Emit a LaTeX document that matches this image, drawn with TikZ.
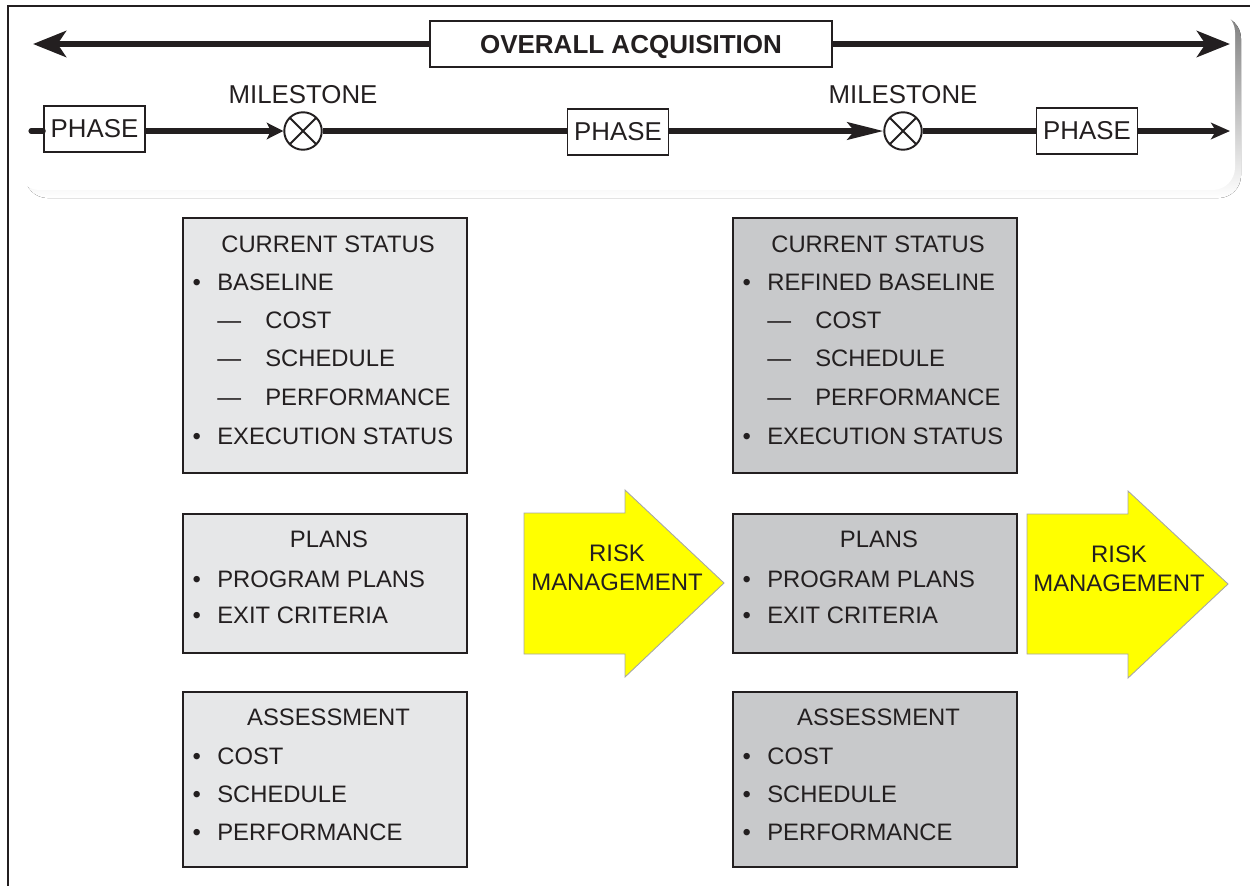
\documentclass[tikz,border=0pt]{standalone}
\usepackage{fontspec}
\setmainfont{Liberation Sans}
\usepackage{tikz}
\usetikzlibrary{arrows.meta,shapes}

\definecolor{ink}{HTML}{231F20}
\definecolor{shade}{HTML}{DCDDDF}
\definecolor{lightbox}{HTML}{E6E7E8}
\definecolor{darkbox}{HTML}{C8C9CB}
\definecolor{riskyellow}{HTML}{FFFF00}

\newcommand{\bul}{\llap{\textbullet\hspace{0.33cm}}}
\newcommand{\dsh}{\makebox[0.96cm][l]{—}}

\begin{document}
\begin{tikzpicture}[x=0.02cm, y=-0.02cm,
  every node/.style={text=ink},
  box/.style={draw=ink, line width=1.1pt},
  acqbox/.style={draw=ink, line width=1.1pt, fill=white, minimum width=8.04cm, minimum height=0.92cm, inner sep=0pt, text depth=0pt, font=\fontsize{14.8}{17}\selectfont\bfseries},
  phasebox/.style={draw=ink, line width=0.9pt, fill=white, minimum width=2.02cm, minimum height=0.92cm, inner sep=0pt, font=\fontsize{14.7}{17}\selectfont},
  milestone/.style={circle, draw=ink, line width=1.1pt, fill=white, minimum size=0.75cm, inner sep=0pt,
    path picture={\draw[ink, line width=1.1pt] (path picture bounding box.north west) -- (path picture bounding box.south east)
      (path picture bounding box.north east) -- (path picture bounding box.south west);}},
  mslabel/.style={inner sep=0pt, font=\fontsize{14.7}{17}\selectfont},
  bigarrow/.style={ink, line width=3.6pt, -{Stealth[length=0.66cm, width=0.52cm, inset=0.17cm]}},
  pline/.style={ink, line width=2.9pt},
  head/.style={inner sep=0pt, font=\fontsize{13.55}{16}\selectfont},
  item/.style={anchor=west, inner sep=0pt, font=\fontsize{13.55}{16}\selectfont},
  riskarrow/.style={fill=riskyellow, draw=gray!70, line width=0.5pt},
  risktext/.style={align=center, inner sep=0pt, font=\fontsize{13.6}{16.5}\selectfont},
]

\useasboundingbox (0,0) rectangle (1250,886);

% frame and top panel
\draw[ink, line width=1.4pt] (1250,6) -- (8,6) -- (8,886);
\fill[shade, rounded corners=0.45cm] (25,16) rectangle (1241,198);
\fill[white, rounded corners=0.45cm] (17,10) rectangle (1235,190);

% overall acquisition
\coordinate (acqL) at (33,44);
\coordinate (acqR) at (1230,44);
\node[acqbox] (acq) at (631,44) {OVERALL ACQUISITION};
\draw[bigarrow] (acq.west) -- (acqL);
\draw[bigarrow] (acq.east) -- (acqR);

% phases and milestones
\coordinate (pstart) at (31,131);
\coordinate (pend) at (1230,131);
\node[phasebox] (phase1) at (94.5,129) {PHASE};
\node[milestone] (ms1) at (303,131) {};
\node[phasebox] (phase2) at (618,132) {PHASE};
\node[milestone] (ms2) at (903,131) {};
\node[phasebox] (phase3) at (1087,131) {PHASE};
\node[mslabel] (ms1lbl) at (303,95) {MILESTONE};
\node[mslabel] (ms2lbl) at (903,95) {MILESTONE};

\draw[pline, line cap=round] (pstart) -- (pstart -| phase1.west);
\draw[pline, -{Stealth[length=0.33cm, width=0.33cm, inset=0.08cm]}] (phase1.east |- ms1) -- (ms1);
\draw[pline] (ms1) -- (ms1 -| phase2.west);
\draw[pline, -{Stealth[length=0.72cm, width=0.35cm, inset=0.14cm]}] (phase2.east |- ms2) -- (ms2);
\draw[pline] (ms2) -- (phase3.west);
\draw[pline, -{Stealth[length=0.38cm, width=0.33cm, inset=0.1cm]}] (phase3.east) -- (pend);

% left column
\draw[box, fill=lightbox] (183,218) rectangle (467,473);
\draw[box, fill=lightbox] (183,514) rectangle (467,653);
\draw[box, fill=lightbox] (183,692) rectangle (467,867);

\node[head] (curL) at (328,244) {CURRENT STATUS};
\node[item] (curL1) at (217,282) {\bul BASELINE};
\node[item] (curL2) at (217,320.5) {\dsh COST};
\node[item] (curL3) at (217,358) {\dsh SCHEDULE};
\node[item] (curL4) at (217,397.5) {\dsh PERFORMANCE};
\node[item] (curL5) at (217,436.7) {\bul EXECUTION STATUS};

\node[head] (planL) at (329,539) {PLANS};
\node[item] (planL1) at (217,579) {\bul PROGRAM PLANS};
\node[item] (planL2) at (217,615) {\bul EXIT CRITERIA};

\node[head] (assL) at (328.5,717) {ASSESSMENT};
\node[item] (assL1) at (217,756.7) {\bul COST};
\node[item] (assL2) at (217,794.7) {\bul SCHEDULE};
\node[item] (assL3) at (217,832.5) {\bul PERFORMANCE};

% right column
\draw[box, fill=darkbox] (733,218) rectangle (1017,473);
\draw[box, fill=darkbox] (733,514) rectangle (1017,653);
\draw[box, fill=darkbox] (733,692) rectangle (1017,867);

\node[head] (curR) at (878,244) {CURRENT STATUS};
\node[item] (curR1) at (767,282) {\bul REFINED BASELINE};
\node[item] (curR2) at (767,320.5) {\dsh COST};
\node[item] (curR3) at (767,358) {\dsh SCHEDULE};
\node[item] (curR4) at (767,397.5) {\dsh PERFORMANCE};
\node[item] (curR5) at (767,436.7) {\bul EXECUTION STATUS};

\node[head] (planR) at (879,539) {PLANS};
\node[item] (planR1) at (767,579) {\bul PROGRAM PLANS};
\node[item] (planR2) at (767,615) {\bul EXIT CRITERIA};

\node[head] (assR) at (878.5,717) {ASSESSMENT};
\node[item] (assR1) at (767,756.7) {\bul COST};
\node[item] (assR2) at (767,794.7) {\bul SCHEDULE};
\node[item] (assR3) at (767,832.5) {\bul PERFORMANCE};

% risk management arrows
\draw[riskarrow] (524,513) -- (625,513) -- (625,490) -- (724,583) -- (625,677) -- (625,654) -- (524,654) -- cycle;
\node[risktext] (risk1) at (617,568) {RISK\\MANAGEMENT};

\draw[riskarrow] (1027,514) -- (1128,514) -- (1128,491) -- (1228,584) -- (1128,678) -- (1128,654) -- (1027,654) -- cycle;
\node[risktext] (risk2) at (1119,569) {RISK\\MANAGEMENT};

\end{tikzpicture}
\end{document}
